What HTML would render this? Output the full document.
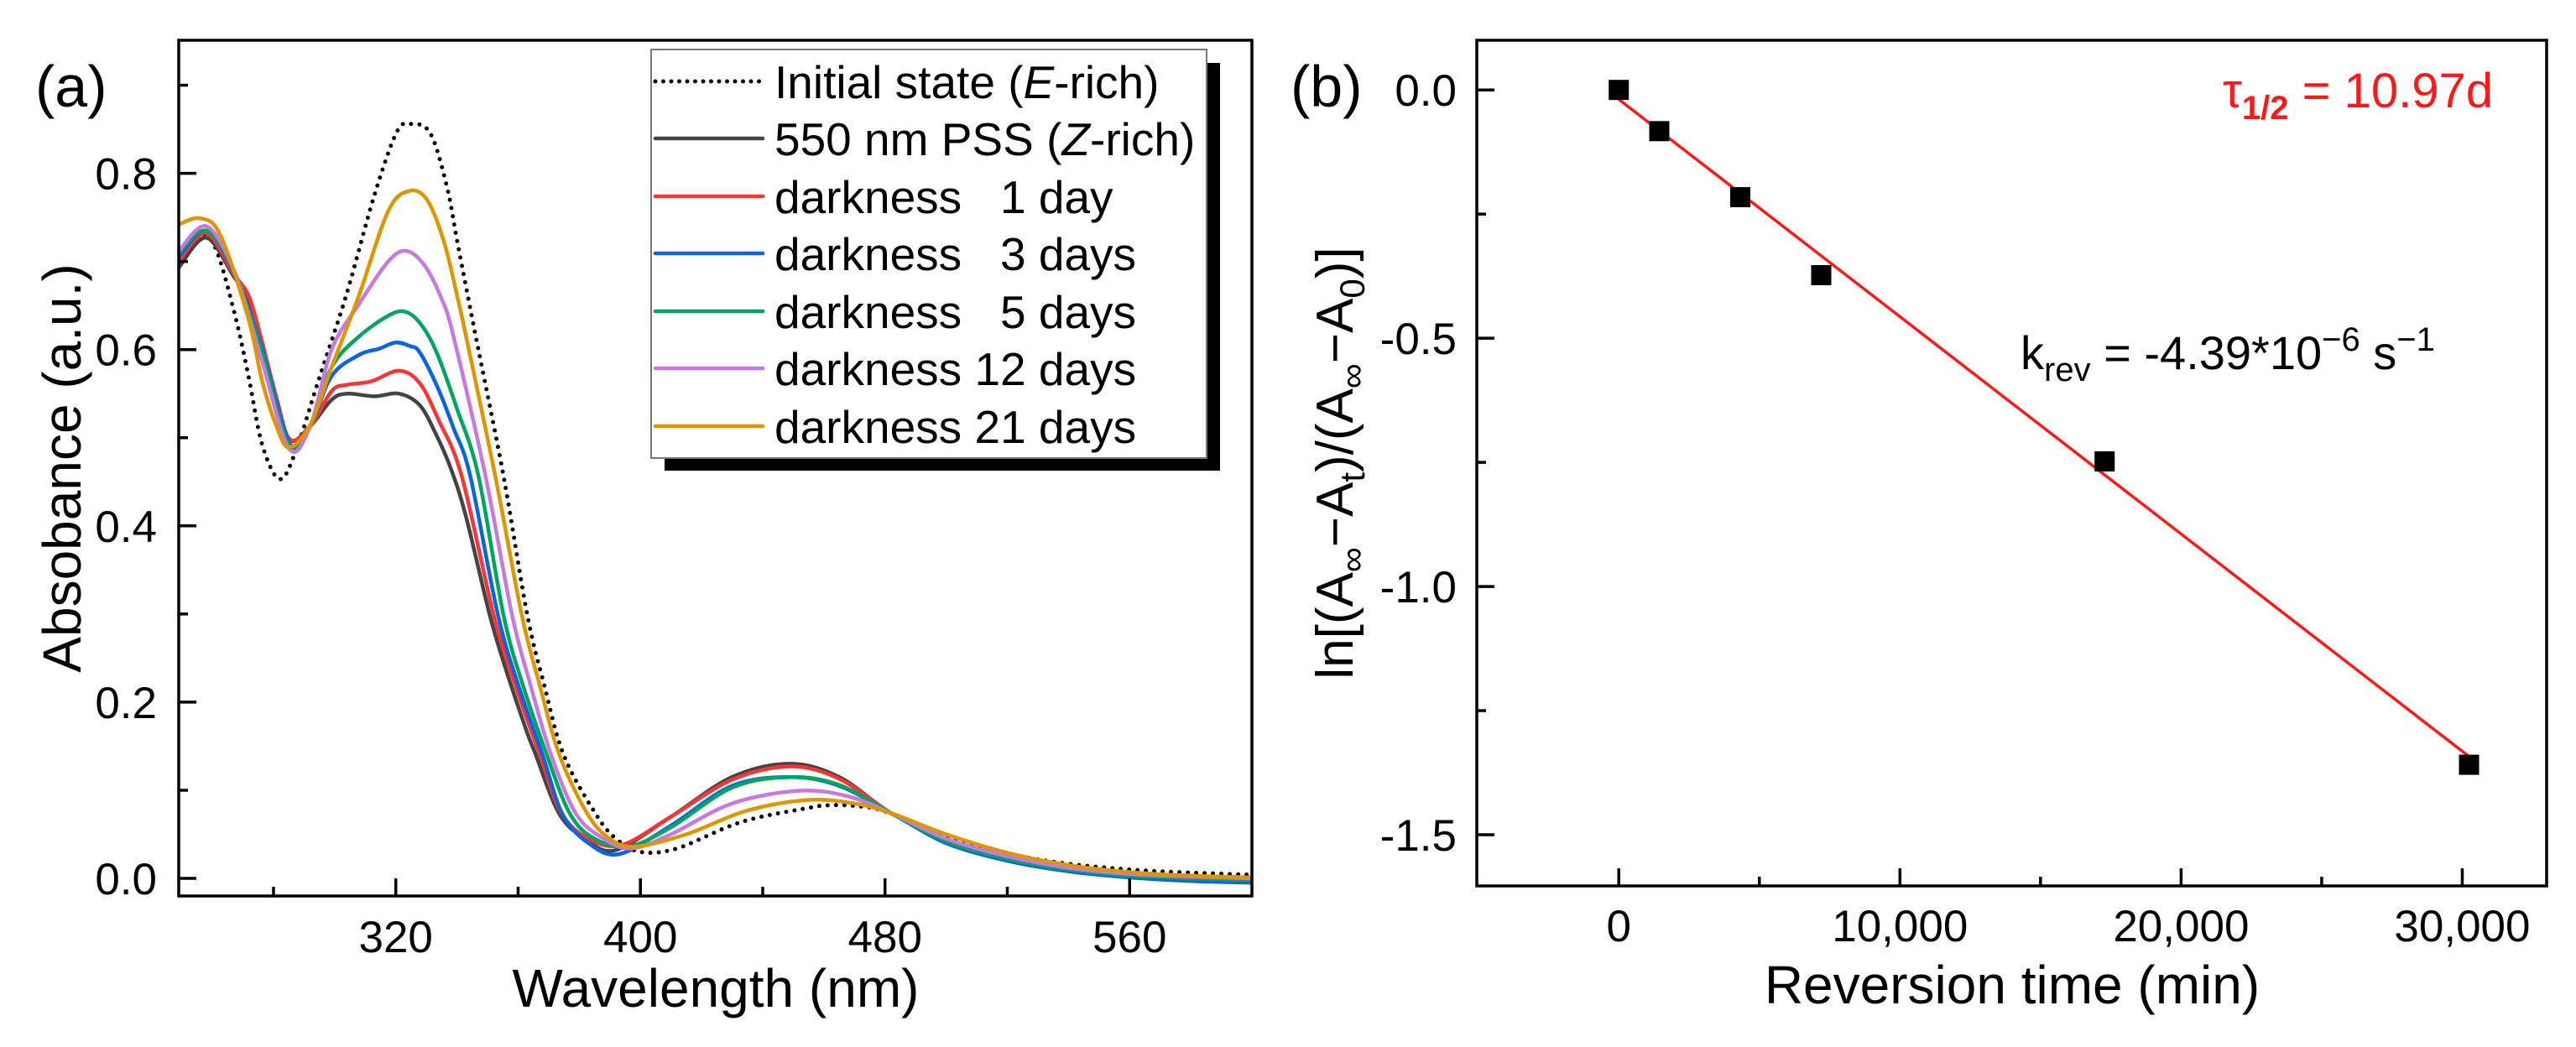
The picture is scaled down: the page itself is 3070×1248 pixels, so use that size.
<!DOCTYPE html>
<html><head><meta charset="utf-8">
<style>
html,body{margin:0;padding:0;background:#fff;}
svg{display:block;font-family:"Liberation Sans",Arial,sans-serif;}
text{white-space:pre;}
</style></head>
<body>
<svg id="fig" width="3070" height="1248" viewBox="0 0 3070 1248" xmlns="http://www.w3.org/2000/svg">
  <g id="pa"></g>
  <g id="pb"></g>
</svg>
<script>
// ---------- Panel (a) data ----------
const pssWl = [249,258,267,272,276,281,285.4,292,299,304,313,321,327.8,333,338,343,350.7,356.2,362.6,365.8,373.5,382,391.8,410,430,449,465,482,500,520,540,560,580,600];
const pssAbs = [.693,.727,.683,.655,.608,.54,.497,.513,.543,.55,.547,.55,.537,.505,.465,.41,.299,.235,.169,.14,.073,.045,.032,.07,.115,.130,.115,.074,.045,.025,.012,.004,0,-.003];
const d1Wl = [249,258,267,272,276,281,285.4,292,299,304,312,321,327.8,334,341.5,352,359,367.1,374,383,394,410,430,449,465,482,500,520,540,560,580,600];
const d1Abs = [.70,.732,.686,.66,.612,.545,.498,.513,.553,.56,.564,.576,.562,.52,.457,.299,.22,.14,.075,.045,.038,.07,.112,.127,.113,.074,.044,.024,.011,.004,0,-.002];
const d3Wl = [249,258,267,276,285.4,292,299,308,314.5,320,324.6,327.8,333.7,339,344.3,353.4,360,368,374.5,383,393.2,410,430,449,465,482,500,520,540,560,580,600];
const d3Abs = [.705,.735,.688,.604,.493,.513,.57,.594,.601,.608,.604,.597,.557,.51,.457,.299,.22,.14,.073,.04,.0276,.06,.105,.115,.105,.074,.04,.02,.008,.001,-.003,-.005];
const d5Wl = [249,258,267,276,285,292,299,308,318.4,323.9,329,333.7,340,347,355.2,361.5,369.4,377,385,396,410,430,449,465,482,500,520,540,560,580,600];
const d5Abs = [.71,.735,.69,.60,.492,.513,.58,.615,.64,.642,.625,.594,.533,.457,.299,.22,.14,.073,.045,.036,.058,.103,.115,.106,.074,.042,.022,.01,.003,0,-.002];
const d12Wl = [249,258,267,276,285,292,299,308,317.5,323.4,329.3,334.8,338.8,349.3,358,364,370.8,379,388,397,410,430,452,468,482,500,520,540,560,580,600];
const d12Abs = [.712,.74,.69,.59,.488,.513,.60,.652,.70,.712,.696,.659,.616,.457,.299,.22,.14,.073,.045,.034,.05,.085,.0995,.093,.074,.045,.025,.012,.005,.002,0];
const d21Wl = [249,256,262.6,271.8,276.3,281,285,291.8,299,308,317.5,324.3,330.2,335.7,340,342.9,352.5,361.2,367,373.5,382.7,390,398.2,415,435,455,470,482,500,520,540,560,580,600];
const d21Abs = [.742,.749,.73,.635,.564,.513,.489,.513,.58,.662,.757,.78,.77,.723,.662,.616,.457,.299,.22,.14,.073,.045,.036,.05,.077,.089,.085,.074,.05,.029,.015,.007,.003,.001];
const initWl = [249,255,260.8,267.2,271.8,276.3,282,287.3,294.6,303.8,312.9,320.2,324.6,331.2,336.7,340.4,346.1,355.2,363,368.5,374.9,385.4,392,400,412,433,455,462,471,480,500,527.6,560,600];
const initAbs = [.71,.73,.717,.642,.57,.492,.453,.485,.564,.662,.774,.846,.856,.846,.785,.717,.616,.457,.299,.22,.14,.073,.045,.030,.034,.064,.08,.083,.082,.076,.049,.023,.01,.004];
const aXTicks = [320,400,480,560];
const aXMinor = [280,360,440,520];
const aYTicks = [0,0.2,0.4,0.6,0.8];
const aYTickLabels = ["0.0","0.2","0.4","0.6","0.8"];
const aYMinor = [0.1,0.3,0.5,0.7,0.9];
const legendLabels = ["Initial state (E-rich)","550 nm PSS (Z-rich)","darkness   1 day","darkness   3 days","darkness   5 days","darkness 12 days","darkness 21 days"];

// ---------- Panel (b) data ----------
const revTime = [0,1440,4320,7200,17280,30240];
const lnRatio = [0,-0.083,-0.216,-0.373,-0.748,-1.359];
const fitX = [0,30300];
const fitY = [-0.019,-1.345];
const bXTicks = [0,10000,20000,30000];
const bXTickLabels = ["0","10,000","20,000","30,000"];
const bXMinor = [5000,15000,25000];
const bYTicks = [0,-0.5,-1.0,-1.5];
const bYTickLabels = ["0.0","-0.5","-1.0","-1.5"];
const bYMinor = [-0.25,-0.75,-1.25];

const NS = "http://www.w3.org/2000/svg";
function mk(tag, attrs, parent){
  const e = document.createElementNS(NS, tag);
  for (const k in attrs) e.setAttribute(k, attrs[k]);
  parent.appendChild(e);
  return e;
}
function smooth(pts){
  let d = "M"+pts[0][0].toFixed(1)+","+pts[0][1].toFixed(1);
  for (let i=0;i<pts.length-1;i++){
    const p0 = pts[i-1]||pts[i], p1 = pts[i], p2 = pts[i+1], p3 = pts[i+2]||p2;
    const c1x = p1[0]+(p2[0]-p0[0])/6, c1y = p1[1]+(p2[1]-p0[1])/6;
    const c2x = p2[0]-(p3[0]-p1[0])/6, c2y = p2[1]-(p3[1]-p1[1])/6;
    d += " C"+c1x.toFixed(1)+","+c1y.toFixed(1)+" "+c2x.toFixed(1)+","+c2y.toFixed(1)+" "+p2[0].toFixed(1)+","+p2[1].toFixed(1);
  }
  return d;
}

// ===== Panel A =====
const A = {l:213,r:1492,t:48,b:1068,x0:249,x1:600,y0:-0.02,y1:0.951};
const ax = v => A.l + (v-A.x0)/(A.x1-A.x0)*(A.r-A.l);
const ay = v => A.b - (v-A.y0)/(A.y1-A.y0)*(A.b-A.t);
const pa = document.getElementById('pa');

const clipA = mk('clipPath',{id:'clipA'},pa);
mk('rect',{x:A.l,y:A.t,width:A.r-A.l,height:A.b-A.t},clipA);

const seriesA = [
  {wl:initWl, ab:initAbs, color:"#000", dotted:true, name:"series-initial-state"},
  {wl:pssWl, ab:pssAbs, color:"#444444", name:"series-550nm-pss"},
  {wl:d1Wl, ab:d1Abs, color:"#ff3535", name:"series-darkness-1-day"},
  {wl:d3Wl, ab:d3Abs, color:"#0a64e0", name:"series-darkness-3-days"},
  {wl:d5Wl, ab:d5Abs, color:"#00a462", name:"series-darkness-5-days"},
  {wl:d12Wl, ab:d12Abs, color:"#c47ae0", name:"series-darkness-12-days"},
  {wl:d21Wl, ab:d21Abs, color:"#dc9600", name:"series-darkness-21-days"}
];
const curves = mk('g',{'clip-path':'url(#clipA)'},pa);


seriesA.forEach(s=>{
  const pts = s.wl.map((w,i)=>[ax(w), ay(s.ab[i])]);
  const p = mk('path',{d:smooth(pts),fill:'none',stroke:s.color,'stroke-width':s.dotted?5:4.5,'stroke-linejoin':'round','stroke-linecap':'round'},curves);
  if (s.dotted){ p.setAttribute('stroke-dasharray','0 10'); }
  
  
});

const frameA = mk('rect',{x:A.l,y:A.t,width:A.r-A.l,height:A.b-A.t,fill:'none',stroke:'#000','stroke-width':3.5},pa);



aYTicks.forEach((v,i)=>{
  mk('line',{x1:A.l,x2:A.l+21,y1:ay(v),y2:ay(v),stroke:'#000','stroke-width':3.5},pa);
  const t = mk('text',{x:187,y:ay(v)+19,'font-size':53,'text-anchor':'end'},pa);
  t.textContent = aYTickLabels[i];
  
  
});
aYMinor.forEach(v=>{ mk('line',{x1:A.l,x2:A.l+11,y1:ay(v),y2:ay(v),stroke:'#000','stroke-width':3.5},pa); });
aXTicks.forEach(v=>{
  mk('line',{x1:ax(v),x2:ax(v),y1:A.b,y2:A.b-21,stroke:'#000','stroke-width':3.5},pa);
  const t = mk('text',{x:ax(v),y:1135,'font-size':53,'text-anchor':'middle'},pa);
  t.textContent = String(v);
  
  
});
aXMinor.forEach(v=>{ mk('line',{x1:ax(v),x2:ax(v),y1:A.b,y2:A.b-11,stroke:'#000','stroke-width':3.5},pa); });

// legend
const leg = mk('g',{},pa);


mk('rect',{x:792,y:75,width:662,height:486,fill:'#000'},leg);
mk('rect',{x:776,y:59,width:662,height:487,fill:'#fff',stroke:'#777','stroke-width':2},leg);
const rowsY = [97,165,234,302,371,439,508];
seriesA.forEach((s,i)=>{
  const ent = mk('g',{},leg);
  
  
  const ln = mk('line',{x1:781,x2:909,y1:rowsY[i],y2:rowsY[i],stroke:s.color,'stroke-width':s.dotted?5:4.5,'stroke-linecap':'round'},ent);
  if (s.dotted) ln.setAttribute('stroke-dasharray','0 9.5');
  const t = mk('text',{x:923,y:rowsY[i]+20,'font-size':55},ent);
  const lab = legendLabels[i];
  const m = lab.match(/^(.*\()([EZ])(-rich\))$/);
  if (m){
    mk('tspan',{},t).textContent = m[1];
    mk('tspan',{'font-style':'italic'},t).textContent = m[2];
    mk('tspan',{},t).textContent = m[3];
  } else {
    t.textContent = lab;
  }
});

const la = mk('text',{x:42,y:127,'font-size':70},pa); la.textContent="(a)";
 
const ayt = mk('text',{x:0,y:0,'font-size':64,'text-anchor':'middle',transform:'translate(96,558) rotate(-90)'},pa);
ayt.textContent = "Absobance (a.u.)";
 
const axt = mk('text',{x:853,y:1200,'font-size':64,'text-anchor':'middle'},pa);
axt.textContent = "Wavelength (nm)";
 

// ===== Panel B =====
const B = {l:1760,r:3035,t:48,b:1056,x0:-5050,x1:33000,y0:-1.603,y1:0.1};
const bx = v => B.l + (v-B.x0)/(B.x1-B.x0)*(B.r-B.l);
const by = v => B.b - (v-B.y0)/(B.y1-B.y0)*(B.b-B.t);
const pb = document.getElementById('pb');

const fit = mk('line',{x1:bx(fitX[0]),y1:by(fitY[0]),x2:bx(fitX[1]),y2:by(fitY[1]),stroke:'#ff1a1a','stroke-width':3.5},pb);
 
revTime.forEach((t,i)=>{
  const r = mk('rect',{x:bx(t)-12,y:by(lnRatio[i])-12,width:24,height:24,fill:'#000'},pb);
   
});

const frameB = mk('rect',{x:B.l,y:B.t,width:B.r-B.l,height:B.b-B.t,fill:'none',stroke:'#000','stroke-width':3.5},pb);
 
bYTicks.forEach((v,i)=>{
  mk('line',{x1:B.l,x2:B.l+21,y1:by(v),y2:by(v),stroke:'#000','stroke-width':3.5},pb);
  const t = mk('text',{x:1736,y:by(v)+19,'font-size':53,'text-anchor':'end'},pb);
  t.textContent = bYTickLabels[i];
   
});
bYMinor.forEach(v=>{ mk('line',{x1:B.l,x2:B.l+11,y1:by(v),y2:by(v),stroke:'#000','stroke-width':3.5},pb); });
bXTicks.forEach((v,i)=>{
  mk('line',{x1:bx(v),x2:bx(v),y1:B.b,y2:B.b-21,stroke:'#000','stroke-width':3.5},pb);
  const t = mk('text',{x:bx(v),y:1122,'font-size':53,'text-anchor':'middle'},pb);
  t.textContent = bXTickLabels[i];
   
});
bXMinor.forEach(v=>{ mk('line',{x1:bx(v),x2:bx(v),y1:B.b,y2:B.b-11,stroke:'#000','stroke-width':3.5},pb); });

const lb = mk('text',{x:1538,y:127,'font-size':70},pb); lb.textContent="(b)";
 
const bxt = mk('text',{x:2398,y:1196,'font-size':64,'text-anchor':'middle'},pb);
bxt.textContent = "Reversion time (min)";
 

const byt = mk('text',{x:0,y:0,'font-size':62,'text-anchor':'middle',transform:'translate(1612,552) rotate(-90)'},pb);
 
[["ln[(A",0],["∞",1],["−A",0],["t",1],[")/(A",0],["∞",1],["−A",0],["0",1],[")]",0]].forEach(p=>{
  const ts = mk('tspan',{},byt);
  if (p[1]){ ts.setAttribute('font-size','42'); ts.setAttribute('dy','14'); }
  else { ts.setAttribute('dy', ts.previousSibling && ts.previousSibling.getAttribute('font-size') ? '-14':'0'); }
  ts.textContent = p[0];
});

const tau = mk('text',{x:2971,y:128,'font-size':58,'text-anchor':'end',fill:'#ff1a1a'},pb);
 
mk('tspan',{},tau).textContent = "τ";
mk('tspan',{'font-size':40,'font-weight':'bold',dy:14},tau).textContent = "1/2";
mk('tspan',{dy:-14},tau).textContent = " = 10.97d";

const kr = mk('text',{x:2408,y:440,'font-size':56},pb);
 
mk('tspan',{},kr).textContent = "k";
mk('tspan',{'font-size':40,dy:14},kr).textContent = "rev";
mk('tspan',{dy:-14},kr).textContent = " = -4.39*10";
mk('tspan',{'font-size':40,dy:-22},kr).textContent = "−6";
mk('tspan',{dy:22},kr).textContent = " s";
mk('tspan',{'font-size':40,dy:-22},kr).textContent = "−1";
</script>
</body></html>
